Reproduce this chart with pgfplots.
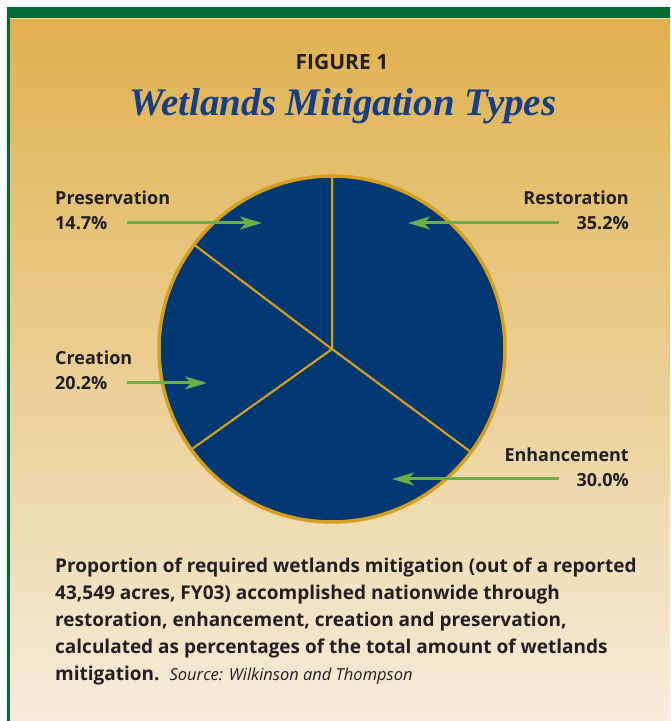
\documentclass[border=0pt]{standalone}
\usepackage{pgfplots}
\pgfplotsset{compat=1.18}
\usepackage{pgfplotstable}
\usepackage{fontspec}
\setmainfont{Open Sans}
\newfontfamily\titlefont{Liberation Serif}
\usetikzlibrary{arrows.meta}
\definecolor{bggold}{RGB}{224,178,79}
\definecolor{bgcream}{RGB}{247,235,217}
\definecolor{frame}{RGB}{0,107,53}
\definecolor{navy}{RGB}{0,56,116}
\definecolor{pgold}{RGB}{214,160,30}
\definecolor{agreen}{RGB}{106,176,72}
\definecolor{txt}{RGB}{35,31,32}
\definecolor{tblue}{RGB}{22,62,135}
\pgfplotstableread{
name pct
Restoration 35.2
Enhancement 30.0
Creation 20.2
Preservation 14.7
}\pietable
\begin{document}
\begin{tikzpicture}
\pgfplotstablegetelem{0}{pct}\of\pietable\let\pA\pgfplotsretval
\pgfplotstablegetelem{1}{pct}\of\pietable\let\pB\pgfplotsretval
\pgfplotstablegetelem{2}{pct}\of\pietable\let\pC\pgfplotsretval
\pgfplotstablegetelem{3}{pct}\of\pietable\let\pD\pgfplotsretval
\pgfmathsetmacro\tot{\pA+\pB+\pC+\pD}
\pgfmathsetmacro\aA{90}
\pgfmathsetmacro\aB{\aA-360*\pA/\tot}
\pgfmathsetmacro\aC{\aB-360*\pB/\tot}
\pgfmathsetmacro\aD{\aC-360*\pC/\tot}
\pgfmathsetmacro\aE{\aD-360*\pD/\tot}
\begin{axis}[
  scale only axis, width=670bp, height=721bp,
  xmin=0, xmax=670, ymin=-721, ymax=0,
  hide axis, clip=false,
]
% background and frame
\fill[white] (axis cs:0,0) rectangle (axis cs:670,-721);
\shade[top color=bggold, bottom color=bgcream] (axis cs:10,-18) rectangle (axis cs:670,-721);
\fill[frame] (axis cs:7,-7) rectangle (axis cs:670,-18);
\fill[frame] (axis cs:7,-7) rectangle (axis cs:10,-721);
\draw[color={rgb,255:red,236;green,218;blue,160}, line width=1bp] (axis cs:10,-18.5) -- (axis cs:670,-18.5);
% titles
\node[anchor=base, text=txt, font=\fontsize{21bp}{24bp}\selectfont\bfseries] at (axis cs:342,-70) {FIGURE 1};
\node[anchor=base, text=tblue, font=\titlefont\fontsize{39bp}{44bp}\selectfont\bfseries\itshape] at (axis cs:343,-116) {Wetlands Mitigation Types};
% pie
\filldraw[fill=navy, draw=pgold, line width=2bp, line join=round] (axis cs:332,-349) -- ++(\aA:173bp) arc[start angle=\aA, end angle=\aB, radius=173bp] -- cycle;
\filldraw[fill=navy, draw=pgold, line width=2bp, line join=round] (axis cs:332,-349) -- ++(\aB:173bp) arc[start angle=\aB, end angle=\aC, radius=173bp] -- cycle;
\filldraw[fill=navy, draw=pgold, line width=2bp, line join=round] (axis cs:332,-349) -- ++(\aC:173bp) arc[start angle=\aC, end angle=\aD, radius=173bp] -- cycle;
\filldraw[fill=navy, draw=pgold, line width=2bp, line join=round] (axis cs:332,-349) -- ++(\aD:173bp) arc[start angle=\aD, end angle=\aE, radius=173bp] -- cycle;
\draw[pgold, line width=3.5bp] (axis cs:332,-349) circle[radius=173bp];
% arrows
\tikzset{garrow/.style={agreen, line width=3bp, -{Stealth[length=22bp, width=13bp, inset=6bp]}}}
\draw[garrow] (axis cs:127,-223) -- (axis cs:262,-223);
\draw[garrow] (axis cs:127,-383) -- (axis cs:207,-383);
\draw[garrow] (axis cs:559,-223) -- (axis cs:408,-223);
\draw[garrow] (axis cs:559,-479) -- (axis cs:392,-479);
% labels
\tikzset{lab/.style={text=txt, font=\fontsize{18bp}{22bp}\selectfont\bfseries, inner sep=0pt}}
\node[lab, anchor=base west] at (axis cs:55,-205) {Preservation};
\node[lab, anchor=base west] at (axis cs:55,-230) {14.7\%};
\node[lab, anchor=base west] at (axis cs:55,-365) {Creation};
\node[lab, anchor=base west] at (axis cs:55,-390) {20.2\%};
\node[lab, anchor=base east] at (axis cs:629,-205) {Restoration};
\node[lab, anchor=base east] at (axis cs:629,-230) {35.2\%};
\node[lab, anchor=base east] at (axis cs:629,-462) {Enhancement};
\node[lab, anchor=base east] at (axis cs:629,-487) {30.0\%};
% caption
\tikzset{captxt/.style={text=txt, font=\fontsize{19bp}{22bp}\selectfont\bfseries, inner sep=0pt, anchor=base west}}
\node[captxt] at (axis cs:55,-573) {Proportion of required wetlands mitigation (out of a reported};
\node[captxt] at (axis cs:55,-600) {43,549 acres, FY03) accomplished nationwide through};
\node[captxt] at (axis cs:55,-627) {restoration, enhancement, creation and preservation,};
\node[captxt] at (axis cs:55,-654) {calculated as percentages of the total amount of wetlands};
\node[captxt] at (axis cs:55,-681) {mitigation.\hspace{10bp}{\mdseries\itshape\fontsize{16.5bp}{18bp}\selectfont Source: Wilkinson and Thompson}};
\end{axis}
\end{tikzpicture}
\end{document}
